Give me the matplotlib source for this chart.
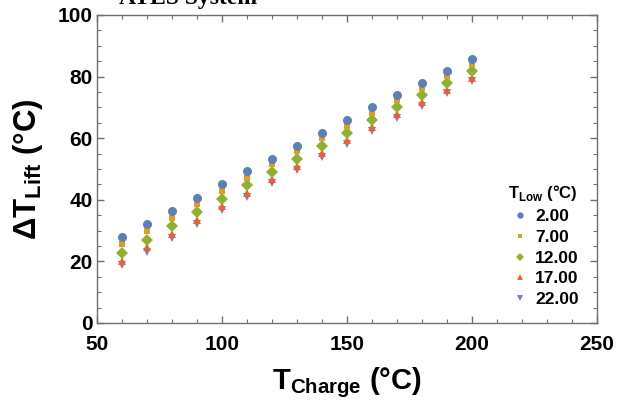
import matplotlib.pyplot as plt
from matplotlib.ticker import MultipleLocator

# data
t_charge = [60, 70, 80, 90, 100, 110, 120, 130, 140, 150, 160, 170, 180, 190, 200]
t_low = ["2.00", "7.00", "12.00", "17.00", "22.00"]
lift_2 = [27.8, 32.0, 36.4, 40.7, 45.0, 49.2, 53.4, 57.6, 61.8, 65.9, 70.0, 74.0, 78.0, 81.9, 85.7]
lift_7 = [25.5, 29.8, 34.2, 38.6, 42.9, 47.2, 51.5, 55.7, 59.9, 64.1, 68.2, 72.3, 76.3, 80.2, 84.1]
lift_12 = [22.7, 27.1, 31.5, 35.9, 40.3, 44.7, 49.0, 53.3, 57.5, 61.7, 65.9, 70.0, 74.1, 78.0, 81.9]
lift_17 = [20.2, 24.6, 29.0, 33.5, 37.9, 42.3, 46.6, 50.9, 55.2, 59.4, 63.6, 67.7, 71.8, 75.8, 79.6]
lift_22 = [18.8, 23.2, 27.7, 32.1, 36.6, 41.0, 45.3, 49.6, 53.9, 58.1, 62.3, 66.4, 70.5, 74.6, 78.6]
series = [lift_2, lift_7, lift_12, lift_17, lift_22]

colors = ["#5E81B5", "#E19C24", "#8FB032", "#EB6235", "#8778B3"]
markers = ["o", "s", "D", "^", "v"]
sizes = [6.5, 5.0, 6.0, 6.0, 6.3]

plt.rcParams["font.family"] = ["Liberation Sans", "DejaVu Sans"]
plt.rcParams["font.weight"] = "bold"
plt.rcParams["mathtext.fontset"] = "custom"
plt.rcParams["mathtext.rm"] = "Liberation Sans:bold"
plt.rcParams["mathtext.bf"] = "Liberation Sans:bold"

fig = plt.figure(figsize=(6.28, 4.05), dpi=100)
ax = fig.add_axes([0.1545, 0.2025, 0.7961, 0.7605])

# last series drawn first so blue ends up on top
handles = []
for vals, lab, c, m, s, z in reversed(list(zip(series, t_low, colors, markers, sizes, range(5)))):
    h, = ax.plot(t_charge, vals, linestyle="none", marker=m, color=c, markersize=s,
                 markeredgewidth=0, label=lab, zorder=10 - z)
    handles.insert(0, h)

ax.set_xlim(50, 250)
ax.set_ylim(0, 100)
ax.xaxis.set_major_locator(MultipleLocator(50))
ax.xaxis.set_minor_locator(MultipleLocator(10))
ax.yaxis.set_major_locator(MultipleLocator(20))
ax.yaxis.set_minor_locator(MultipleLocator(5))

gray = "#707070"
for sp in ax.spines.values():
    sp.set_color(gray)
    sp.set_linewidth(1.0)
ax.tick_params(which="both", direction="in", top=True, right=True, color=gray,
               labelsize=15, pad=3)
ax.tick_params(axis="x", which="both", pad=9)
ax.tick_params(which="major", length=5, width=1.0)
ax.tick_params(which="minor", length=3, width=0.8)
for lbl in ax.get_xticklabels() + ax.get_yticklabels():
    lbl.set_fontweight("bold")

ax.set_xlabel(r"T$_{\mathbf{Charge}}$ (°C)", fontsize=21, fontweight="bold", labelpad=8)
ax.set_ylabel(r"ΔT$_{\mathbf{Lift}}$ (°C)", fontsize=22.5, fontweight="bold", labelpad=9)

leg = ax.legend(handles=handles, title=r"T$_{\mathbf{Low}}$ (°C)", loc="lower right",
                bbox_to_anchor=(0.995, 0.0), frameon=False, fontsize=12.5,
                title_fontsize=12, handletextpad=0.1, labelspacing=0.33,
                markerscale=0.7, handlelength=1.5)
leg.get_title().set_fontweight("bold")
for t in leg.get_texts():
    t.set_fontweight("bold")

fig.text(0.30, 0.99, "ATES System", family="Liberation Serif", fontweight="bold",
         fontsize=17, ha="center", va="baseline")

fig.savefig("out.png", dpi=100)
